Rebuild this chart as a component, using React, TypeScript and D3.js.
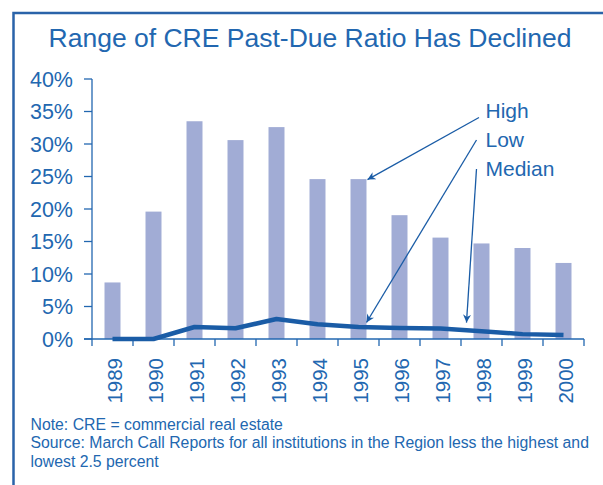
import React from "react";
import * as d3 from "d3";

const years = ["1989","1990","1991","1992","1993","1994","1995","1996","1997","1998","1999","2000"];
const highValues = [8.7, 19.6, 33.5, 30.6, 32.6, 24.6, 24.6, 19.05, 15.6, 14.7, 14.0, 11.7];
const lowValues = [0, 0, 0, 0, 0, 0, 0, 0, 0, 0, 0, 0];
const medianValues = [0, 0, 1.85, 1.65, 3.08, 2.26, 1.85, 1.7, 1.6, 1.2, 0.75, 0.6];
const yTicks = [0, 5, 10, 15, 20, 25, 30, 35, 40];
const legendLabels = ["High", "Low", "Median"];
const title = "Range of CRE Past-Due Ratio Has Declined";
const notes = [
  "Note: CRE = commercial real estate",
  "Source: March Call Reports for all institutions in the Region less the highest and",
  "lowest 2.5 percent",
];

const W = 603, H = 485;
const TEXT = "#2267b0";
const BAR = "#a1acd5";
const LINE = "#1a5ca6";
const FONT = "'Liberation Sans', Arial, Helvetica, sans-serif";

export default function App() {
  const x = d3.scaleBand<string>().domain(years).range([92, 584]).paddingInner(0.61).paddingOuter(0.305);
  const y = d3.scaleLinear().domain([0, 40]).range([339, 79]);
  const bw = x.bandwidth();
  const cx = (yr: string) => (x(yr) as number) + bw / 2;

  const line = d3.line<number>()
    .x((_, i) => cx(years[i]))
    .y((d) => y(d));

  const step = x.step();
  const boundaries = d3.range(years.length + 1).map((i) => 92 + i * step);

  // annotation arrows anchored to data via scales
  const arrows = [
    { from: [479, 117.5], to: [(x("1995") as number) + bw + 1, y(highValues[6]) + 0.5] },
    { from: [476.5, 140], to: [(x("1995") as number) + bw, y(medianValues[6]) - 4.5] },
    { from: [476.5, 169], to: [(x("1997") as number) + bw + 18, y(medianValues[8]) - 6] },
  ];

  return (
    <svg width={W} height={H} style={{ position: "absolute", left: 0, top: 0, display: "block" }} fontFamily={FONT}>
      <defs>
        <marker id="ah" viewBox="0 0 10 10" refX="10" refY="5" markerWidth="10" markerHeight="8" markerUnits="userSpaceOnUse" orient="auto">
          <path d="M0,0 L10,5 L0,10 L3,5 Z" fill={LINE} />
        </marker>
      </defs>
      <rect x={0} y={0} width={W} height={H} fill="#fff" />
      <path d="M13.5,495 V13 H610" fill="none" stroke="#2a63a9" strokeWidth={2.5} />
      <text x={310} y={47} textAnchor="middle" fontSize={26.5} fill={TEXT}>{title}</text>

      {/* bars */}
      {years.map((yr, i) => (
        <rect key={yr} x={x(yr)} y={y(highValues[i])} width={bw} height={y(lowValues[i]) - y(highValues[i])} fill={BAR} />
      ))}

      {/* y axis */}
      <line x1={92} x2={92} y1={y(40)} y2={y(0)} stroke={TEXT} strokeWidth={1.3} />
      {yTicks.map((t) => (
        <g key={t}>
          <line x1={84} x2={92} y1={y(t)} y2={y(t)} stroke={TEXT} strokeWidth={1.3} />
          <text x={73} y={y(t)} dy="0.36em" textAnchor="end" fontSize={21.5} fill={TEXT}>{t + "%"}</text>
        </g>
      ))}

      {/* x axis */}
      <line x1={84} x2={584} y1={y(0)} y2={y(0)} stroke={TEXT} strokeWidth={1.3} />
      {boundaries.map((bx, i) => (
        <line key={i} x1={bx} x2={bx} y1={y(0)} y2={y(0) + 7} stroke={TEXT} strokeWidth={1.3} />
      ))}
      {years.map((yr) => (
        <text key={yr} transform={`translate(${cx(yr) + 2},358) rotate(-90)`} dy="0.36em" textAnchor="end" fontSize={20.5} fill={TEXT}>{yr}</text>
      ))}

      {/* median line */}
      <path d={line(medianValues) || ""} fill="none" stroke={LINE} strokeWidth={4.5} strokeLinejoin="round" />

      {/* annotations */}
      {legendLabels.map((l, i) => (
        <text key={l} x={485.5} y={118.3 + i * 28.7} fontSize={21} fill={TEXT}>{l}</text>
      ))}
      {arrows.map((a, i) => (
        <line key={i} x1={a.from[0]} y1={a.from[1]} x2={a.to[0]} y2={a.to[1]} stroke={LINE} strokeWidth={1.3} markerEnd="url(#ah)" />
      ))}

      {notes.map((n, i) => (
        <text key={i} x={30.5} y={430 + i * 18.3} fontSize={15.8} fill={TEXT}>{n}</text>
      ))}
    </svg>
  );
}
